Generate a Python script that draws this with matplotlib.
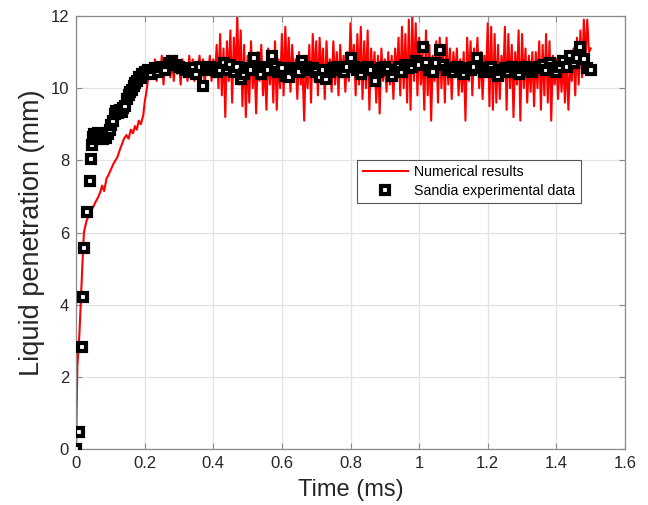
import numpy as np
import matplotlib
matplotlib.use('Agg')
import matplotlib.pyplot as plt

plt.rcParams['font.family'] = ['Liberation Sans', 'DejaVu Sans']

# numerical results: rise phase
rise_t = [0, 0.004, 0.010, 0.014, 0.019, 0.023, 0.030, 0.036, 0.043, 0.050, 0.057,
          0.063, 0.070, 0.076, 0.082, 0.089, 0.095, 0.102, 0.109, 0.115, 0.121,
          0.128, 0.134, 0.140, 0.147, 0.153, 0.160, 0.166, 0.172, 0.177, 0.183,
          0.189, 0.196, 0.200, 0.206, 0.210, 0.215]
rise_v = [0, 2.3, 3.2, 4.1, 5.2, 6.0, 6.3, 6.45, 6.6, 6.7, 6.85,
          6.95, 7.1, 7.3, 7.15, 7.5, 7.6, 7.75, 7.9, 8.0, 8.1,
          8.3, 8.45, 8.6, 8.7, 8.6, 8.85, 8.75, 8.95, 8.85, 9.1,
          9.0, 9.25, 9.6, 9.95, 10.25, 10.5]

# numerical results: fluctuating phase, 0.22 .. 1.50 ms every 0.005 ms
noisy_v = [
    10.6, 10.3, 10.8, 10.2, 10.7, 10.4, 10.9, 10.1, 10.8, 10.5,
    10.9, 10.3, 10.8, 10.2, 10.9, 10.4, 10.7, 10.1, 10.8, 10.3,
    10.6, 10.2, 10.9, 10.4, 10.8, 10.2, 10.7, 10.5, 10.9, 10.3,
    10.8, 10.1, 10.7, 10.4, 10.9, 10.2, 10.8, 10.3, 11.2, 10.0,
    11.5, 9.8, 11.1, 9.2, 11.3, 10.2, 11.6, 9.6, 11.4, 10.3,
    12.0, 10.1, 11.6, 9.5, 11.2, 9.2, 10.9, 9.6, 11.3, 10.0,
    10.8, 9.3, 11.0, 10.2, 11.2, 9.8, 10.7, 9.4, 11.1, 10.1,
    10.9, 9.6, 11.3, 9.4, 10.8, 10.0, 11.5, 9.8, 11.7, 10.2,
    11.4, 9.9, 11.2, 10.3, 10.8, 9.7, 11.0, 10.1, 10.6, 9.1,
    10.9, 10.0, 11.2, 9.6, 11.5, 10.2, 11.3, 9.8, 11.4, 10.3,
    11.1, 9.7, 11.3, 10.2, 10.8, 9.9, 11.3, 10.1, 11.0, 9.8,
    11.2, 10.3, 10.9, 9.9, 11.0, 10.2, 11.8, 10.4, 11.2, 9.8,
    11.5, 10.1, 11.7, 9.7, 11.3, 10.0, 11.6, 9.4, 11.1, 10.2,
    11.0, 9.6, 10.9, 9.3, 11.1, 10.2, 10.8, 9.9, 11.0, 10.1,
    10.9, 9.7, 11.1, 10.3, 11.4, 9.8, 11.7, 10.0, 11.5, 9.6,
    11.9, 9.4, 12.0, 10.2, 11.8, 9.8, 11.4, 10.1, 11.0, 9.4,
    11.6, 9.8, 11.2, 9.1, 10.9, 10.2, 11.3, 9.6, 11.4, 10.0,
    11.2, 9.6, 11.4, 10.1, 11.1, 9.7, 11.0, 10.3, 11.1, 9.8,
    10.8, 9.9, 11.0, 9.1, 11.4, 10.2, 11.3, 9.8, 11.1, 10.4,
    11.4, 10.0, 11.0, 9.7, 10.9, 10.3, 11.8, 9.5, 11.7, 9.4,
    11.5, 9.6, 11.2, 9.7, 10.9, 10.2, 11.7, 9.4, 11.5, 10.0,
    11.2, 9.2, 11.0, 10.1, 11.6, 9.1, 11.5, 10.0, 11.1, 9.6,
    10.9, 9.9, 11.0, 9.5, 11.0, 10.0, 11.3, 9.4, 11.2, 9.8,
    11.5, 9.6, 11.3, 9.1, 10.9, 10.1, 10.8, 9.7, 10.9, 9.9,
    10.8, 9.6, 10.9, 9.4, 10.7, 10.2, 11.1, 9.8, 11.4, 10.1,
    11.6, 10.3, 11.9, 10.8, 11.9, 11.0, 11.1,
]
noisy_t = np.round(0.22 + 0.005 * np.arange(len(noisy_v)), 3)

num_t = np.concatenate([rise_t, noisy_t])
num_v = np.concatenate([rise_v, noisy_v])

# Sandia experimental data
exp_t_early = [0, 0.008, 0.018, 0.021, 0.024, 0.031, 0.041, 0.044, 0.046, 0.049,
               0.053, 0.058, 0.063, 0.068, 0.073, 0.078, 0.083, 0.088, 0.093, 0.098,
               0.103, 0.108, 0.113, 0.118, 0.123, 0.128, 0.133, 0.138, 0.143, 0.148,
               0.153, 0.158, 0.163, 0.168, 0.173, 0.178, 0.183, 0.188, 0.193]
exp_v_early = [0, 0.47, 2.82, 4.22, 5.58, 6.57, 7.42, 8.05, 8.42, 8.65,
               8.72, 8.6, 8.75, 8.62, 8.7, 8.6, 8.68, 8.62, 8.72, 8.85,
               8.98, 9.1, 9.28, 9.38, 9.3, 9.4, 9.35, 9.45, 9.5, 9.7,
               9.8, 9.9, 9.95, 10.05, 10.15, 10.2, 10.3, 10.28, 10.4]
exp_v_late = [
    10.45, 10.5, 10.4, 10.55, 10.45, 10.6, 10.5, 10.7, 10.75, 10.65,
    10.6, 10.55, 10.5, 10.45, 10.55, 10.4, 10.6, 10.05, 10.5, 10.6,
    10.55, 10.45, 10.5, 10.7, 10.5, 10.65, 10.45, 10.6, 10.25, 10.4,
    10.55, 10.5, 10.85, 10.5, 10.4, 10.6, 10.5, 10.9, 10.6, 10.45,
    10.55, 10.35, 10.3, 10.55, 10.5, 10.45, 10.75, 10.6, 10.5, 10.55,
    10.45, 10.3, 10.5, 10.25, 10.45, 10.55, 10.6, 10.5, 10.45, 10.6,
    10.85, 10.6, 10.5, 10.4, 10.55, 10.6, 10.5, 10.2, 10.45, 10.55,
    10.6, 10.5, 10.35, 10.5, 10.6, 10.45, 10.65, 10.55, 10.6, 10.75,
    10.65, 11.15, 10.7, 10.5, 10.45, 10.7, 11.05, 10.65, 10.5, 10.55,
    10.45, 10.6, 10.5, 10.4, 10.55, 10.5, 10.6, 10.85, 10.55, 10.45,
    10.5, 10.6, 10.45, 10.35, 10.5, 10.55, 10.45, 10.6, 10.5, 10.4,
    10.55, 10.6, 10.5, 10.45, 10.55, 10.6, 10.65, 10.5, 10.7, 10.55,
    10.45, 10.6, 10.75, 10.6, 10.9, 10.7, 10.85, 11.15, 10.8, 10.55,
    10.5,
]
exp_t_late = np.round(0.20 + 0.01 * np.arange(len(exp_v_late)), 2)

exp_t = np.concatenate([exp_t_early, exp_t_late])
exp_v = np.concatenate([exp_v_early, exp_v_late])

fig = plt.figure(figsize=(6.48, 5.05), dpi=100)
ax = fig.add_axes([0.1173, 0.1109, 0.8472, 0.8574])

ax.plot(num_t, num_v, color='red', lw=1.5, label='Numerical results', zorder=2)
ax.plot(exp_t, exp_v, linestyle='none', marker='s', markersize=5.3,
        markerfacecolor='white', markeredgecolor='black', markeredgewidth=3.0,
        label='Sandia experimental data', zorder=3)

ax.set_xlim(0, 1.6)
ax.set_ylim(0, 12)
ax.set_xticks(np.arange(0, 1.61, 0.2))
ax.set_xticklabels(['0', '0.2', '0.4', '0.6', '0.8', '1', '1.2', '1.4', '1.6'])
ax.set_yticks(np.arange(0, 13, 2))
ax.grid(True, color='#e3e3e3', lw=0.9)
ax.set_axisbelow(True)
for s in ax.spines.values():
    s.set_color('#8a8a8a')
    s.set_linewidth(0.9)
ax.tick_params(direction='in', length=4, width=0.8, color='#8a8a8a',
               labelsize=12, labelcolor='#262626', top=True, right=True, pad=5)

ax.set_xlabel('Time (ms)', fontsize=17, color='#262626', labelpad=6)
ax.set_ylabel('Liquid penetration (mm)', fontsize=19.5, color='#262626', labelpad=4)

leg = ax.legend(loc='upper left', bbox_to_anchor=(0.512, 0.668), fontsize=10.2,
                frameon=True, fancybox=False, framealpha=1, edgecolor='#555555',
                handlelength=3.2, borderpad=0.4, labelspacing=0.3, handletextpad=0.4,
                borderaxespad=0)
leg.get_frame().set_linewidth(0.8)

plt.savefig('out.png', dpi=100)
plt.close()
